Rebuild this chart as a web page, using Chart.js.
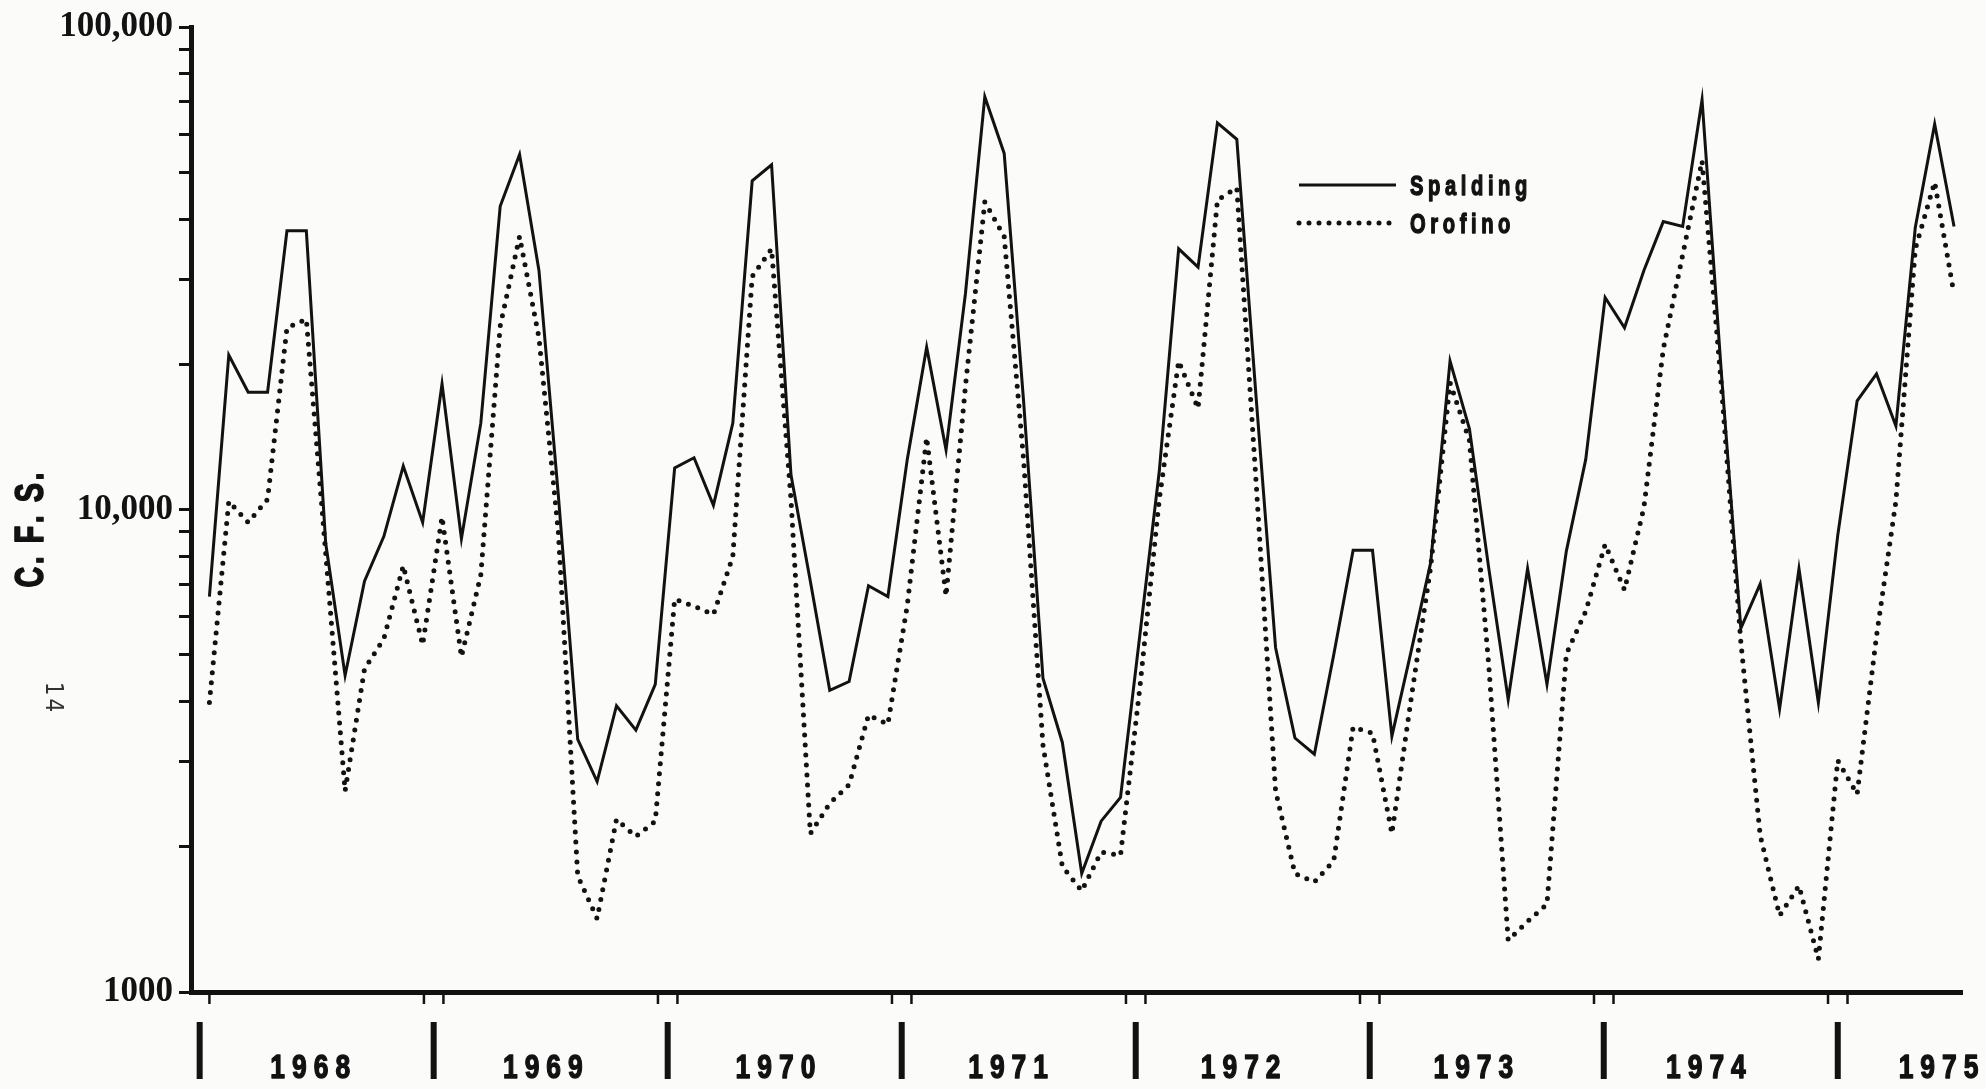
<!DOCTYPE html>
<html>
<head>
<meta charset="utf-8">
<title>Spalding / Orofino flow</title>
<script src="https://cdn.jsdelivr.net/npm/chart.js@4.4.1/dist/chart.umd.min.js"></script>
<style>
  html, body { margin: 0; padding: 0; background: #fbfbfa; }
  #wrap { width: 1986px; height: 1089px; }
</style>
</head>
<body>
<div id="wrap"><canvas id="flow" width="1986" height="1089"></canvas></div>
<script>
const years = ['1968', '1969', '1970', '1971', '1972', '1973', '1974', '1975'];

// monthly mean discharge, Jan 1968 .. Jul 1975
const spalding = [
  6600, 20900, 17500, 17500, 37800, 37800, 8500, 4530, 7100, 8800, 12300, 9400,
  18200, 8700, 15100, 42500, 54400, 31300, 10700, 3340, 2730, 3920, 3490, 4340,
  12200, 12800, 10200, 15100, 48000, 51800, 11800, 7100, 4220, 4400, 6950, 6600,
  12700, 21700, 13300, 28000, 71700, 54700, 16800, 4470, 3290, 1760, 2260, 2530,
  5500, 12000, 34700, 31800, 63300, 58500, 17000, 5170, 3360, 3110, 5000, 8230,
  8230, 3390, 5100, 7760, 20300, 14700, 7540, 4040, 7540, 4340, 8200, 12700,
  27500, 23800, 31300, 39500, 38600, 70700, 19100, 5670, 7010, 3860, 7540, 3980,
  8840, 16800, 19100, 14900, 38400, 62900, 38600
];
const orofino = [
  3980, 10400, 9400, 10500, 23800, 24800, 8100, 2610, 4670, 5400, 7650, 5240,
  9650, 4950, 7320, 24000, 36800, 22700, 8970, 1740, 1420, 2280, 2100, 2260,
  6520, 6300, 6060, 7990, 30400, 34700, 10500, 2130, 2460, 2690, 3750, 3590,
  6330, 14100, 6620, 18000, 43400, 36800, 12700, 3250, 1820, 1620, 1950, 1920,
  4280, 10500, 20300, 16200, 43800, 46400, 11300, 2610, 1760, 1690, 1870, 3540,
  3440, 2130, 4070, 7600, 18300, 13900, 4740, 1280, 1400, 1520, 5020, 6150,
  8470, 6810, 10100, 21500, 33700, 52800, 18000, 5320, 2110, 1440, 1660, 1170,
  3020, 2570, 5470, 10400, 34700, 47700, 27900
];

const yTickValues = [1000, 10000, 100000];
const yTickText = ['1000', '10,000', '100,000'];

const ink = '#121212';
// the hand-ruled year marks run a touch wider than the plotted months
const markStretch = 1.006;

// every 1-9 step of each decade gets a tick mark
const logMarks = [];
for (let d = 1000; d < 100000; d *= 10) {
  for (let s = 1; s < 10; s++) logMarks.push(s * d);
}
logMarks.push(100000);

// letter-spaced, squeezed and slightly thickened lettering
function spaced(ctx, text, x, baseline, size, gap, squeeze, weight, family, align, heavy) {
  ctx.font = `${weight} ${size}px ${family}`;
  ctx.textAlign = 'left';
  ctx.textBaseline = 'alphabetic';
  ctx.lineJoin = 'round';
  const chars = [...text];
  const widths = chars.map(ch => ctx.measureText(ch).width * squeeze);
  const total = widths.reduce((a, b) => a + b, 0) + gap * (chars.length - 1);
  let px = align === 'center' ? x - total / 2 : x;
  chars.forEach((ch, n) => {
    ctx.save();
    ctx.translate(px, baseline);
    ctx.scale(squeeze, 1);
    ctx.fillText(ch, 0, 0);
    if (heavy) {
      ctx.lineWidth = heavy;
      ctx.strokeText(ch, 0, 0);
    }
    ctx.restore();
    px += widths[n] + gap;
  });
}

const paperMarks = {
  id: 'paperMarks',
  afterDraw(chart) {
    const { ctx, chartArea } = chart;
    const x = chart.scales.x;
    const base = chartArea.bottom;
    const markX = m => x.getPixelForValue(m * markStretch);
    ctx.save();
    ctx.fillStyle = ink;
    ctx.strokeStyle = ink;

    years.forEach((yr, k) => {
      // small ticks under the axis on Dec and Jan
      ctx.lineWidth = 2.5;
      [12 * k - 1, 12 * k].forEach(i => {
        if (i < 0) return;
        const px = markX(i);
        ctx.beginPath();
        ctx.moveTo(px, base);
        ctx.lineTo(px, base + 12);
        ctx.stroke();
      });
      // heavy bar at the year boundary
      const bx = markX(12 * k - 0.5);
      ctx.fillRect(bx - 3, base + 30, 6, 57);
      spaced(ctx, yr, x.getPixelForValue(12 * k + 5.2), base + 86, 33, 7, 0.8, 'bold', 'Liberation Sans', 'center', 1.4);
    });

    // y axis caption, reads bottom to top
    ctx.save();
    ctx.translate(29, 530);
    ctx.rotate(-Math.PI / 2);
    spaced(ctx, 'C. F. S.', 0, 14, 40, 2.5, 0.72, 'bold', 'Liberation Sans', 'center', 1.6);
    ctx.restore();

    // page number, turned with the page
    ctx.save();
    ctx.fillStyle = '#333';
    ctx.translate(55, 697);
    ctx.rotate(Math.PI / 2);
    spaced(ctx, '14', 0, 9, 24, 3, 0.9, 'normal', 'DejaVu Sans', 'center', 0);
    ctx.restore();

    // legend
    const rows = [185, 223];
    chart.data.datasets.forEach((ds, n) => {
      const ly = rows[n];
      ctx.save();
      ctx.lineWidth = ds.borderWidth;
      ctx.lineCap = ds.borderCapStyle || 'butt';
      ctx.setLineDash(ds.borderDash || []);
      ctx.beginPath();
      ctx.moveTo(1299, ly);
      ctx.lineTo(1396, ly);
      ctx.stroke();
      ctx.restore();
      spaced(ctx, ds.label, 1410, ly + 10, 28, 4.6, 0.72, 'bold', 'Liberation Sans', 'left', 1.4);
    });
    ctx.restore();
  }
};

const toPoints = arr => arr.map((v, i) => ({ x: i, y: v }));

const chart = new Chart(document.getElementById('flow'), {
  type: 'line',
  data: {
    datasets: [{
      label: 'Spalding',
      data: toPoints(spalding),
      borderColor: ink,
      borderWidth: 3,
      borderJoinStyle: 'miter',
      pointRadius: 0,
      tension: 0
    }, {
      label: 'Orofino',
      data: toPoints(orofino),
      borderColor: ink,
      borderWidth: 5,
      borderDash: [0, 10],
      borderCapStyle: 'round',
      borderJoinStyle: 'round',
      pointRadius: 0,
      tension: 0
    }]
  },
  options: {
    responsive: false,
    animation: false,
    devicePixelRatio: 1,
    layout: { padding: { top: 22, right: 24, left: 0, bottom: 0 } },
    plugins: {
      legend: { display: false },
      tooltip: { enabled: false }
    },
    scales: {
      x: {
        type: 'linear',
        min: -0.95,
        max: 90.41,
        grid: { display: false },
        ticks: { display: false },
        border: { display: true, color: ink, width: 5 },
        afterFit: s => { s.height = 97; }
      },
      y: {
        type: 'logarithmic',
        min: 1000,
        max: 100000,
        afterBuildTicks: s => { s.ticks = logMarks.map(v => ({ value: v })); },
        grid: { drawOnChartArea: false, drawTicks: true, tickLength: 12, lineWidth: 3, color: ink },
        border: { display: true, color: ink, width: 5 },
        ticks: {
          autoSkip: false,
          padding: 6,
          color: ink,
          font: { family: 'Liberation Serif', weight: 'bold', size: 35 },
          callback: v => {
            const k = yTickValues.indexOf(v);
            return k < 0 ? '' : yTickText[k];
          }
        },
        afterFit: s => { s.width = 191; }
      }
    }
  },
  plugins: [paperMarks]
});
</script>
</body>
</html>
